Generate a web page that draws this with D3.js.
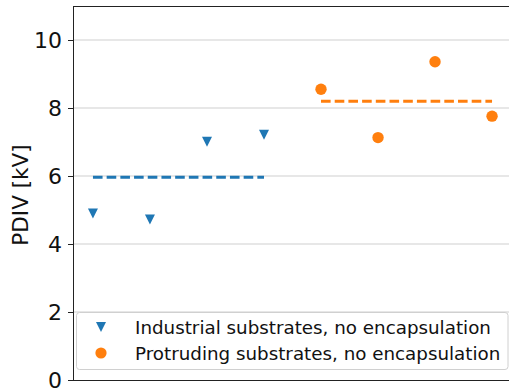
<!DOCTYPE html>
<html>
<head>
<meta charset="utf-8">
<script src="https://cdn.jsdelivr.net/npm/d3@7"></script>
<style>
  html, body { margin: 0; padding: 0; background: #fff; }
  svg { display: block; font-family: "DejaVu Sans", sans-serif; }
</style>
</head>
<body>
<svg id="chart" width="509" height="390"></svg>
<script>
// ---- data ----
const industrialIdx = [0, 1, 2, 3];
const industrialPDIV = [4.90, 4.72, 7.01, 7.21];
const protrudingIdx = [4, 5, 6, 7];
const protrudingPDIV = [8.55, 7.13, 9.36, 7.76];
const yTicks = [0, 2, 4, 6, 8, 10];
const legendLabels = ["Industrial substrates, no encapsulation", "Protruding substrates, no encapsulation"];
const seriesColors = ["#1f77b4", "#ff7f0e"];
const yLabel = "PDIV [kV]";

// ---- layout ----
const svg = d3.select("#chart");
const L = 73, R = 512, T = 6, B = 380;
const x = d3.scaleLinear().domain([-0.35, 7.35]).range([L, R]);
const y = d3.scaleLinear().domain([0, 11]).range([B, T]);

// matplotlib-like "v" marker (width == height)
const triDown = {
  draw(ctx, size) {
    const h = Math.sqrt(size) / 2;
    ctx.moveTo(-h, -h); ctx.lineTo(h, -h); ctx.lineTo(0, h); ctx.closePath();
  }
};
const tri = d3.symbol().type(triDown).size(100);

// grid
svg.append("g").selectAll("line").data(yTicks.filter(d => d > 0)).join("line")
  .attr("x1", L).attr("x2", R)
  .attr("y1", d => y(d)).attr("y2", d => y(d))
  .attr("stroke", "#cfcfcf").attr("stroke-width", 1);

// axes
const yAxis = d3.axisLeft(y).tickValues(yTicks).tickSize(5).tickPadding(6).tickFormat(d3.format("d"));
const gy = svg.append("g").attr("transform", `translate(${L},0)`).call(yAxis);
gy.select(".domain").remove();
gy.selectAll(".tick line").attr("stroke", "#222").attr("stroke-width", 1);
gy.selectAll(".tick text").attr("font-size", "22px").attr("fill", "#111")
  .attr("font-family", "DejaVu Sans, sans-serif");

// spines
svg.append("line").attr("x1", L + 0.5).attr("x2", L + 0.5).attr("y1", T).attr("y2", B).attr("stroke", "#222");
svg.append("line").attr("x1", L).attr("x2", R).attr("y1", B + 0.5).attr("y2", B + 0.5).attr("stroke", "#222");
svg.append("line").attr("x1", L).attr("x2", R).attr("y1", T + 0.5).attr("y2", T + 0.5).attr("stroke", "#222");
svg.append("line").attr("x1", R).attr("x2", R).attr("y1", T).attr("y2", B).attr("stroke", "#222");

// y label
svg.append("text")
  .attr("transform", `translate(20,${(T + B) / 2 + 2}) rotate(-90)`)
  .attr("text-anchor", "middle").attr("dominant-baseline", "central")
  .attr("font-size", "21.5px").attr("fill", "#111").text(yLabel);

// mean lines
const means = [d3.mean(industrialPDIV), d3.mean(protrudingPDIV)];
const ranges = [d3.extent(industrialIdx), d3.extent(protrudingIdx)];
svg.append("g").selectAll("line").data(means).join("line")
  .attr("x1", (d, i) => x(ranges[i][0])).attr("x2", (d, i) => x(ranges[i][1]))
  .attr("y1", d => y(d)).attr("y2", d => y(d))
  .attr("stroke", (d, i) => seriesColors[i]).attr("stroke-width", 3)
  .attr("stroke-dasharray", "9.6,4.1");

// markers
svg.append("g").selectAll("path").data(industrialPDIV).join("path")
  .attr("d", tri)
  .attr("transform", (d, i) => `translate(${x(industrialIdx[i])},${y(d)})`)
  .attr("fill", seriesColors[0]);
svg.append("g").selectAll("circle").data(protrudingPDIV).join("circle")
  .attr("cx", (d, i) => x(protrudingIdx[i])).attr("cy", d => y(d)).attr("r", 5.7)
  .attr("fill", seriesColors[1]);

// legend
const lg = svg.append("g");
lg.append("rect").attr("x", 76.5).attr("y", 312.5).attr("width", 431.5).attr("height", 57)
  .attr("rx", 3).attr("fill", "#fff").attr("fill-opacity", 0.8).attr("stroke", "#d0d0d0");
const rowsY = [327, 353];
lg.append("path").attr("d", tri).attr("transform", `translate(101,${rowsY[0]})`).attr("fill", seriesColors[0]);
lg.append("circle").attr("cx", 101).attr("cy", rowsY[1]).attr("r", 5.6).attr("fill", seriesColors[1]);
lg.selectAll("text").data(legendLabels).join("text")
  .attr("x", 135).attr("y", (d, i) => rowsY[i])
  .attr("dominant-baseline", "central")
  .attr("font-size", "18.3px").attr("fill", "#111").text(d => d);
</script>
</body>
</html>
